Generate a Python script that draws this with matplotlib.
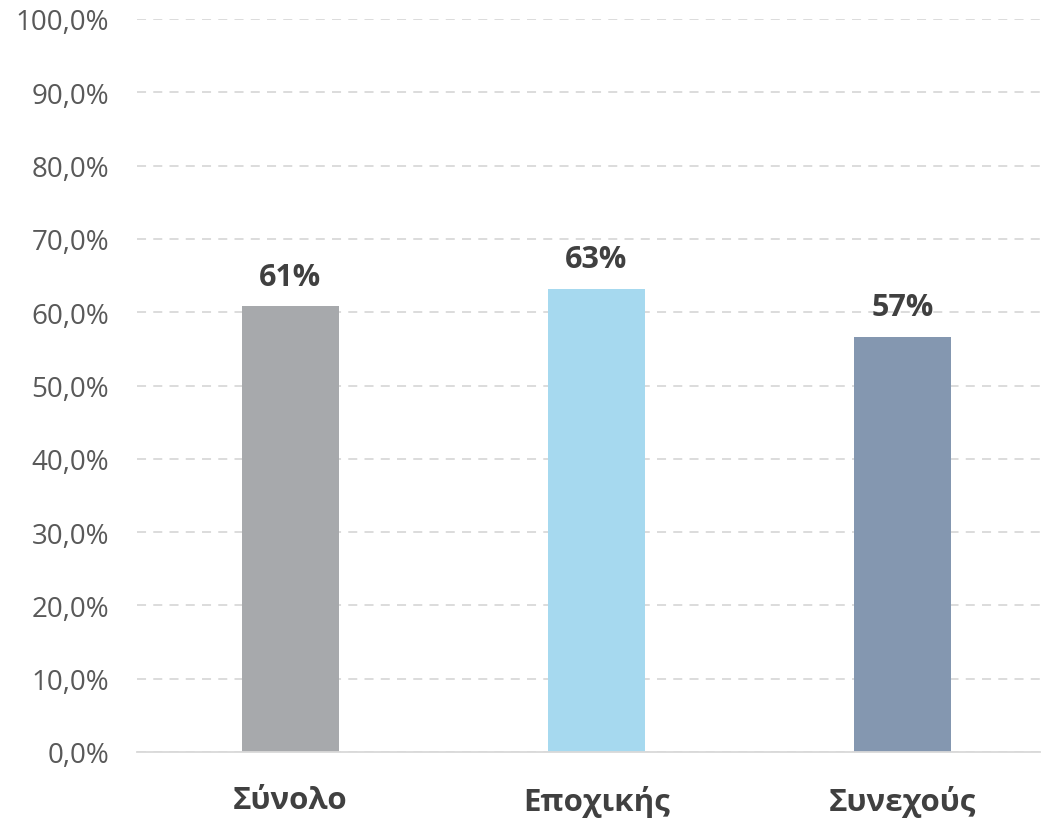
import matplotlib
matplotlib.use("Agg")
import matplotlib.pyplot as plt
from matplotlib.ticker import FuncFormatter

categories = ["Σύνολο", "Εποχικής", "Συνεχούς"]
values = [60.8, 63.2, 56.6]
labels = ["61%", "63%", "57%"]
colors = ["#A7A9AC", "#A6D9EF", "#8497B0"]
yticks = [0, 10, 20, 30, 40, 50, 60, 70, 80, 90, 100]

plt.rcParams['font.family'] = ['Open Sans', 'DejaVu Sans']

fig = plt.figure(figsize=(10.46, 8.2), dpi=100)
ax = fig.add_axes([137/1046, 1 - 753/820, (1040 - 137)/1046, (753 - 20)/820])

x = range(len(categories))
ax.bar(x, values, width=0.317, color=colors, zorder=3)
for xi, v, lab in zip(x, values, labels):
    ax.text(xi, v + 2.0, lab, ha='center', va='bottom', fontsize=22, fontweight='bold', color='#404040', zorder=4)

ax.set_ylim(0, 100)
ax.set_xlim(-0.5, 2.45)
ax.set_yticks(yticks)
ax.yaxis.set_major_formatter(FuncFormatter(lambda v, p: f"{v:.1f}%".replace('.', ',')))
ax.grid(axis='y', color='#D9D9D9', linestyle=(0, (5, 4)), linewidth=1.3, zorder=0)
ax.set_xticks(list(x))
ax.set_xticklabels(categories, fontsize=22.5, fontweight='bold', color='#404040')
ax.tick_params(axis='y', labelsize=20, labelcolor='#595959', length=0, pad=20)
ax.tick_params(axis='x', length=0, pad=24)
for s in ['top', 'right', 'left']:
    ax.spines[s].set_visible(False)
ax.spines['bottom'].set_color('#D9D9D9')
ax.spines['bottom'].set_linewidth(1.3)
ax.spines['bottom'].set_zorder(5)

fig.savefig("out.png", dpi=100)
